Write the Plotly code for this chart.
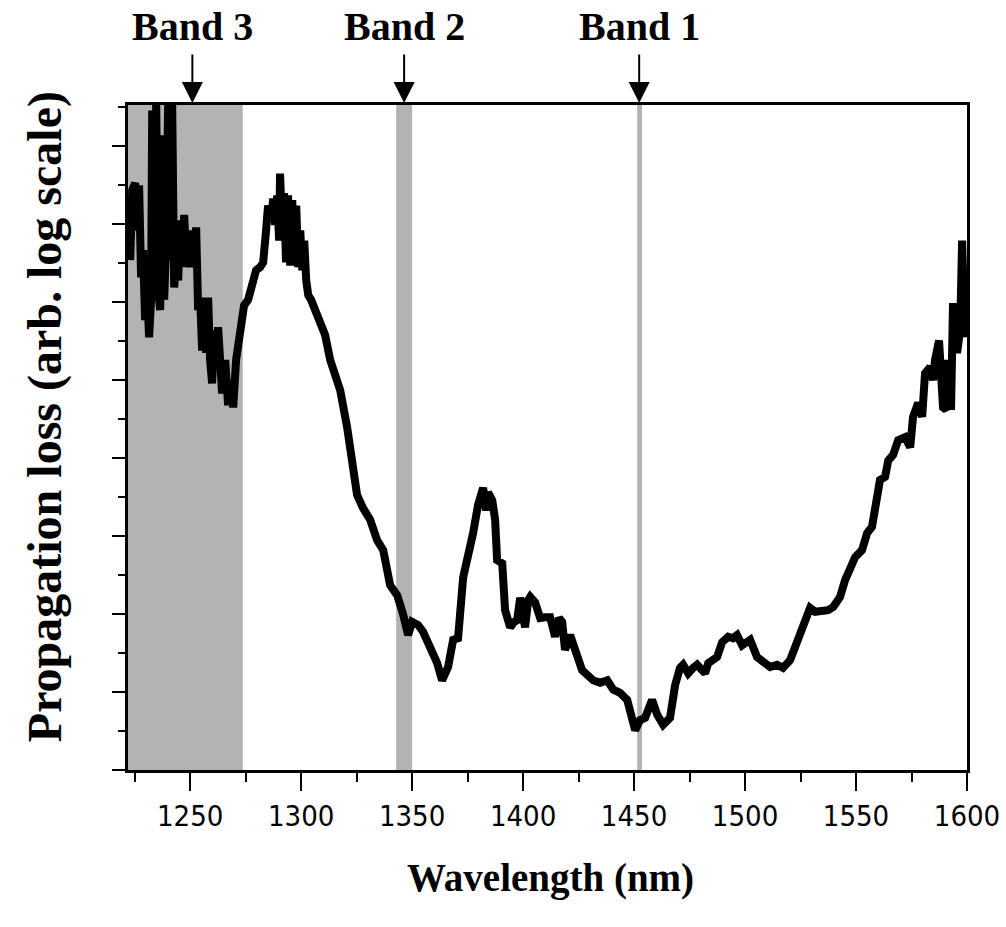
import plotly.graph_objects as go

# Measured propagation-loss spectrum (arbitrary log units)
wavelength_nm = [
    1223.0, 1223.9, 1225.2, 1226.1, 1227.0, 1227.9, 1228.8, 1229.7, 1230.6, 1231.5,
    1232.4, 1232.9, 1233.8, 1234.7, 1235.6, 1236.5, 1237.4, 1238.3, 1239.2, 1240.1,
    1241.0, 1241.9, 1242.8, 1243.7, 1244.6, 1245.5, 1246.4, 1247.3, 1248.2, 1249.1,
    1250.0, 1250.9, 1251.8, 1252.7, 1253.6, 1254.5, 1255.4, 1256.3, 1257.2, 1258.1,
    1259.0, 1259.9, 1260.8, 1261.7, 1262.6, 1263.5, 1264.4, 1265.8, 1267.1, 1268.5,
    1269.4, 1270.7, 1272.5, 1274.3, 1276.1, 1277.9, 1279.7, 1281.5, 1282.9, 1284.2,
    1285.1, 1286.5, 1287.4, 1288.3, 1289.2, 1290.1, 1290.5, 1291.4, 1292.3, 1293.2,
    1294.1, 1295.1, 1296.0, 1296.9, 1297.8, 1298.7, 1299.6, 1300.5, 1301.4, 1302.3,
    1303.2, 1304.5, 1306.3, 1308.6, 1310.8, 1313.1, 1315.3, 1317.6, 1320.7, 1323.0,
    1325.2, 1327.9, 1331.1, 1334.2, 1337.0, 1340.1, 1343.3, 1346.0, 1348.2, 1350.0,
    1352.7, 1355.0, 1358.1, 1361.3, 1363.5, 1366.2, 1368.5, 1370.7, 1373.0, 1375.2,
    1377.5, 1379.7, 1382.0, 1383.3, 1384.2, 1386.1, 1387.4, 1388.3, 1390.6, 1391.9,
    1394.2, 1396.0, 1397.3, 1398.7, 1400.0, 1400.9, 1402.3, 1403.2, 1405.4, 1407.7,
    1409.9, 1412.2, 1414.4, 1416.2, 1417.6, 1418.9, 1421.2, 1424.3, 1426.6, 1428.9,
    1431.6, 1434.7, 1437.9, 1440.6, 1443.7, 1446.9, 1448.7, 1450.5, 1452.7, 1455.0,
    1458.1, 1460.4, 1463.1, 1466.2, 1468.5, 1470.7, 1472.1, 1474.4, 1476.6, 1478.4,
    1480.7, 1482.0, 1483.4, 1485.6, 1487.4, 1489.7, 1492.4, 1494.6, 1496.4, 1498.7,
    1500.5, 1502.3, 1505.4, 1508.1, 1511.3, 1514.4, 1517.1, 1520.3, 1523.5, 1526.2,
    1529.3, 1531.6, 1534.7, 1537.4, 1539.7, 1542.8, 1545.1, 1547.3, 1549.6, 1552.7,
    1555.0, 1557.2, 1559.5, 1560.8, 1563.1, 1564.5, 1566.7, 1569.0, 1572.1, 1574.4,
    1575.7, 1578.0, 1579.8, 1581.1, 1583.4, 1584.7, 1585.6, 1587.4, 1589.2, 1590.6,
    1591.5, 1592.8, 1593.7, 1595.5, 1596.9, 1597.8, 1599.1,
]
loss_arb = [
    6.54, 7.44, 7.53, 6.92, 7.50, 6.32, 6.67, 5.77, 6.15, 5.55,
    6.03, 8.46, 6.28, 8.55, 6.15, 5.90, 8.14, 6.03, 6.79, 8.55,
    6.54, 8.55, 6.19, 6.54, 6.28, 7.05, 6.45, 7.12, 6.54, 6.92,
    6.45, 6.92, 6.47, 6.96, 5.90, 6.06, 5.38, 6.03, 5.35, 6.06,
    5.26, 4.96, 5.64, 5.13, 5.68, 5.32, 4.83, 5.26, 4.68, 5.00,
    4.65, 5.26, 5.58, 5.96, 6.03, 6.28, 6.41, 6.45, 6.51, 6.92,
    7.24, 7.05, 7.33, 6.99, 7.37, 6.79, 7.65, 6.99, 7.40, 6.51,
    7.37, 6.47, 7.31, 6.60, 7.24, 6.45, 6.92, 6.41, 6.79, 6.28,
    6.09, 6.03, 5.90, 5.71, 5.58, 5.26, 5.06, 4.87, 4.40, 3.85,
    3.53, 3.36, 3.21, 2.95, 2.82, 2.37, 2.24, 1.99, 1.73, 1.90,
    1.86, 1.77, 1.58, 1.37, 1.15, 1.32, 1.67, 1.69, 2.47, 2.73,
    3.04, 3.40, 3.62, 3.33, 3.56, 3.46, 3.21, 2.69, 2.65, 2.05,
    1.83, 1.90, 1.92, 2.21, 1.99, 1.83, 2.18, 2.22, 2.15, 1.95,
    1.96, 1.96, 1.71, 1.95, 1.90, 1.54, 1.73, 1.47, 1.28, 1.22,
    1.15, 1.12, 1.15, 1.03, 0.99, 0.90, 0.64, 0.51, 0.64, 0.67,
    0.90, 0.71, 0.58, 0.67, 1.09, 1.31, 1.35, 1.24, 1.31, 1.35,
    1.28, 1.24, 1.37, 1.41, 1.45, 1.64, 1.71, 1.69, 1.73, 1.60,
    1.63, 1.67, 1.45, 1.38, 1.32, 1.35, 1.31, 1.41, 1.67, 1.90,
    2.08, 2.03, 2.03, 2.05, 2.09, 2.22, 2.44, 2.56, 2.73, 2.82,
    3.04, 3.12, 3.63, 3.72, 3.76, 3.97, 4.04, 4.23, 4.27, 4.14,
    4.53, 4.71, 4.53, 5.09, 5.17, 5.00, 5.26, 5.51, 4.65, 4.62,
    5.26, 4.62, 5.99, 5.35, 5.64, 6.79, 5.55,
]

# Shaded wavelength bands (start, end) and their arrow positions
band_names = ["Band 3", "Band 2", "Band 1"]
band_start = [1222.0, 1342.8, 1451.4]
band_end = [1273.7, 1350.0, 1453.6]
band_marker = [1251.0, 1346.4, 1452.3]

x_range = [1222, 1600]
y_range = [0, 8.53]
x_ticks = [1250, 1300, 1350, 1400, 1450, 1500, 1550, 1600]

band_gray = "#b3b3b3"
title_font = dict(family="Liberation Serif, Times New Roman, serif", size=40, color="black")

fig = go.Figure()

fig.add_trace(go.Scatter(
    x=wavelength_nm, y=loss_arb, mode="lines",
    line=dict(color="black", width=8),
    showlegend=False, hoverinfo="skip",
))

for name, x0, x1, xm in zip(band_names, band_start, band_end, band_marker):
    fig.add_shape(type="rect", xref="x", yref="paper", x0=x0, x1=x1, y0=0, y1=1,
                  fillcolor=band_gray, line=dict(width=0), layer="below")
    # Downward arrow pointing at the band
    fig.add_annotation(x=xm, y=1.003, xref="x", yref="paper", text="",
                       showarrow=True, arrowhead=2, arrowsize=2.1, arrowwidth=2,
                       arrowcolor="black", ax=0, ay=-50, standoff=0)
    fig.add_annotation(x=xm, y=1.118, xref="x", yref="paper", text=f"<b>{name}</b>",
                       showarrow=False, font=title_font, xanchor="center", yanchor="middle")

# Axis titles
fig.add_annotation(x=0.503, y=-0.162, xref="paper", yref="paper",
                   text="<b>Wavelength (nm)</b>", showarrow=False,
                   font=dict(title_font, size=39), xanchor="center", yanchor="middle")
fig.add_annotation(x=-0.099, y=0.532, xref="paper", yref="paper",
                   text="<b>Propagation loss (arb. log scale)</b>", showarrow=False,
                   textangle=-90, font=dict(title_font, size=48),
                   xanchor="center", yanchor="middle")

fig.update_xaxes(
    range=x_range, tickvals=x_ticks, ticks="outside", ticklen=18, tickwidth=2,
    tickcolor="black", showline=True, linewidth=3, linecolor="black", mirror=True,
    showgrid=False, zeroline=False,
    tickfont=dict(family="Liberation Sans Narrow, DejaVu Sans Condensed, Arial Narrow, sans-serif",
                  size=29, color="black"),
    minor=dict(dtick=25, tick0=1225, ticks="outside", ticklen=9, tickwidth=2,
               tickcolor="black", showgrid=False),
)
fig.update_yaxes(
    range=y_range, tick0=0, dtick=1, ticks="outside", ticklen=13, tickwidth=2,
    tickcolor="black", showticklabels=False, showline=True, linewidth=3,
    linecolor="black", mirror=True, showgrid=False, zeroline=False,
    minor=dict(dtick=0.5, tick0=0, ticks="outside", ticklen=7, tickwidth=2,
               tickcolor="black", showgrid=False),
)

fig.update_layout(
    width=1006, height=927,
    margin=dict(l=128, r=39, t=105, b=157, autoexpand=False),
    plot_bgcolor="white", paper_bgcolor="white",
)

fig.write_html("out.html")
